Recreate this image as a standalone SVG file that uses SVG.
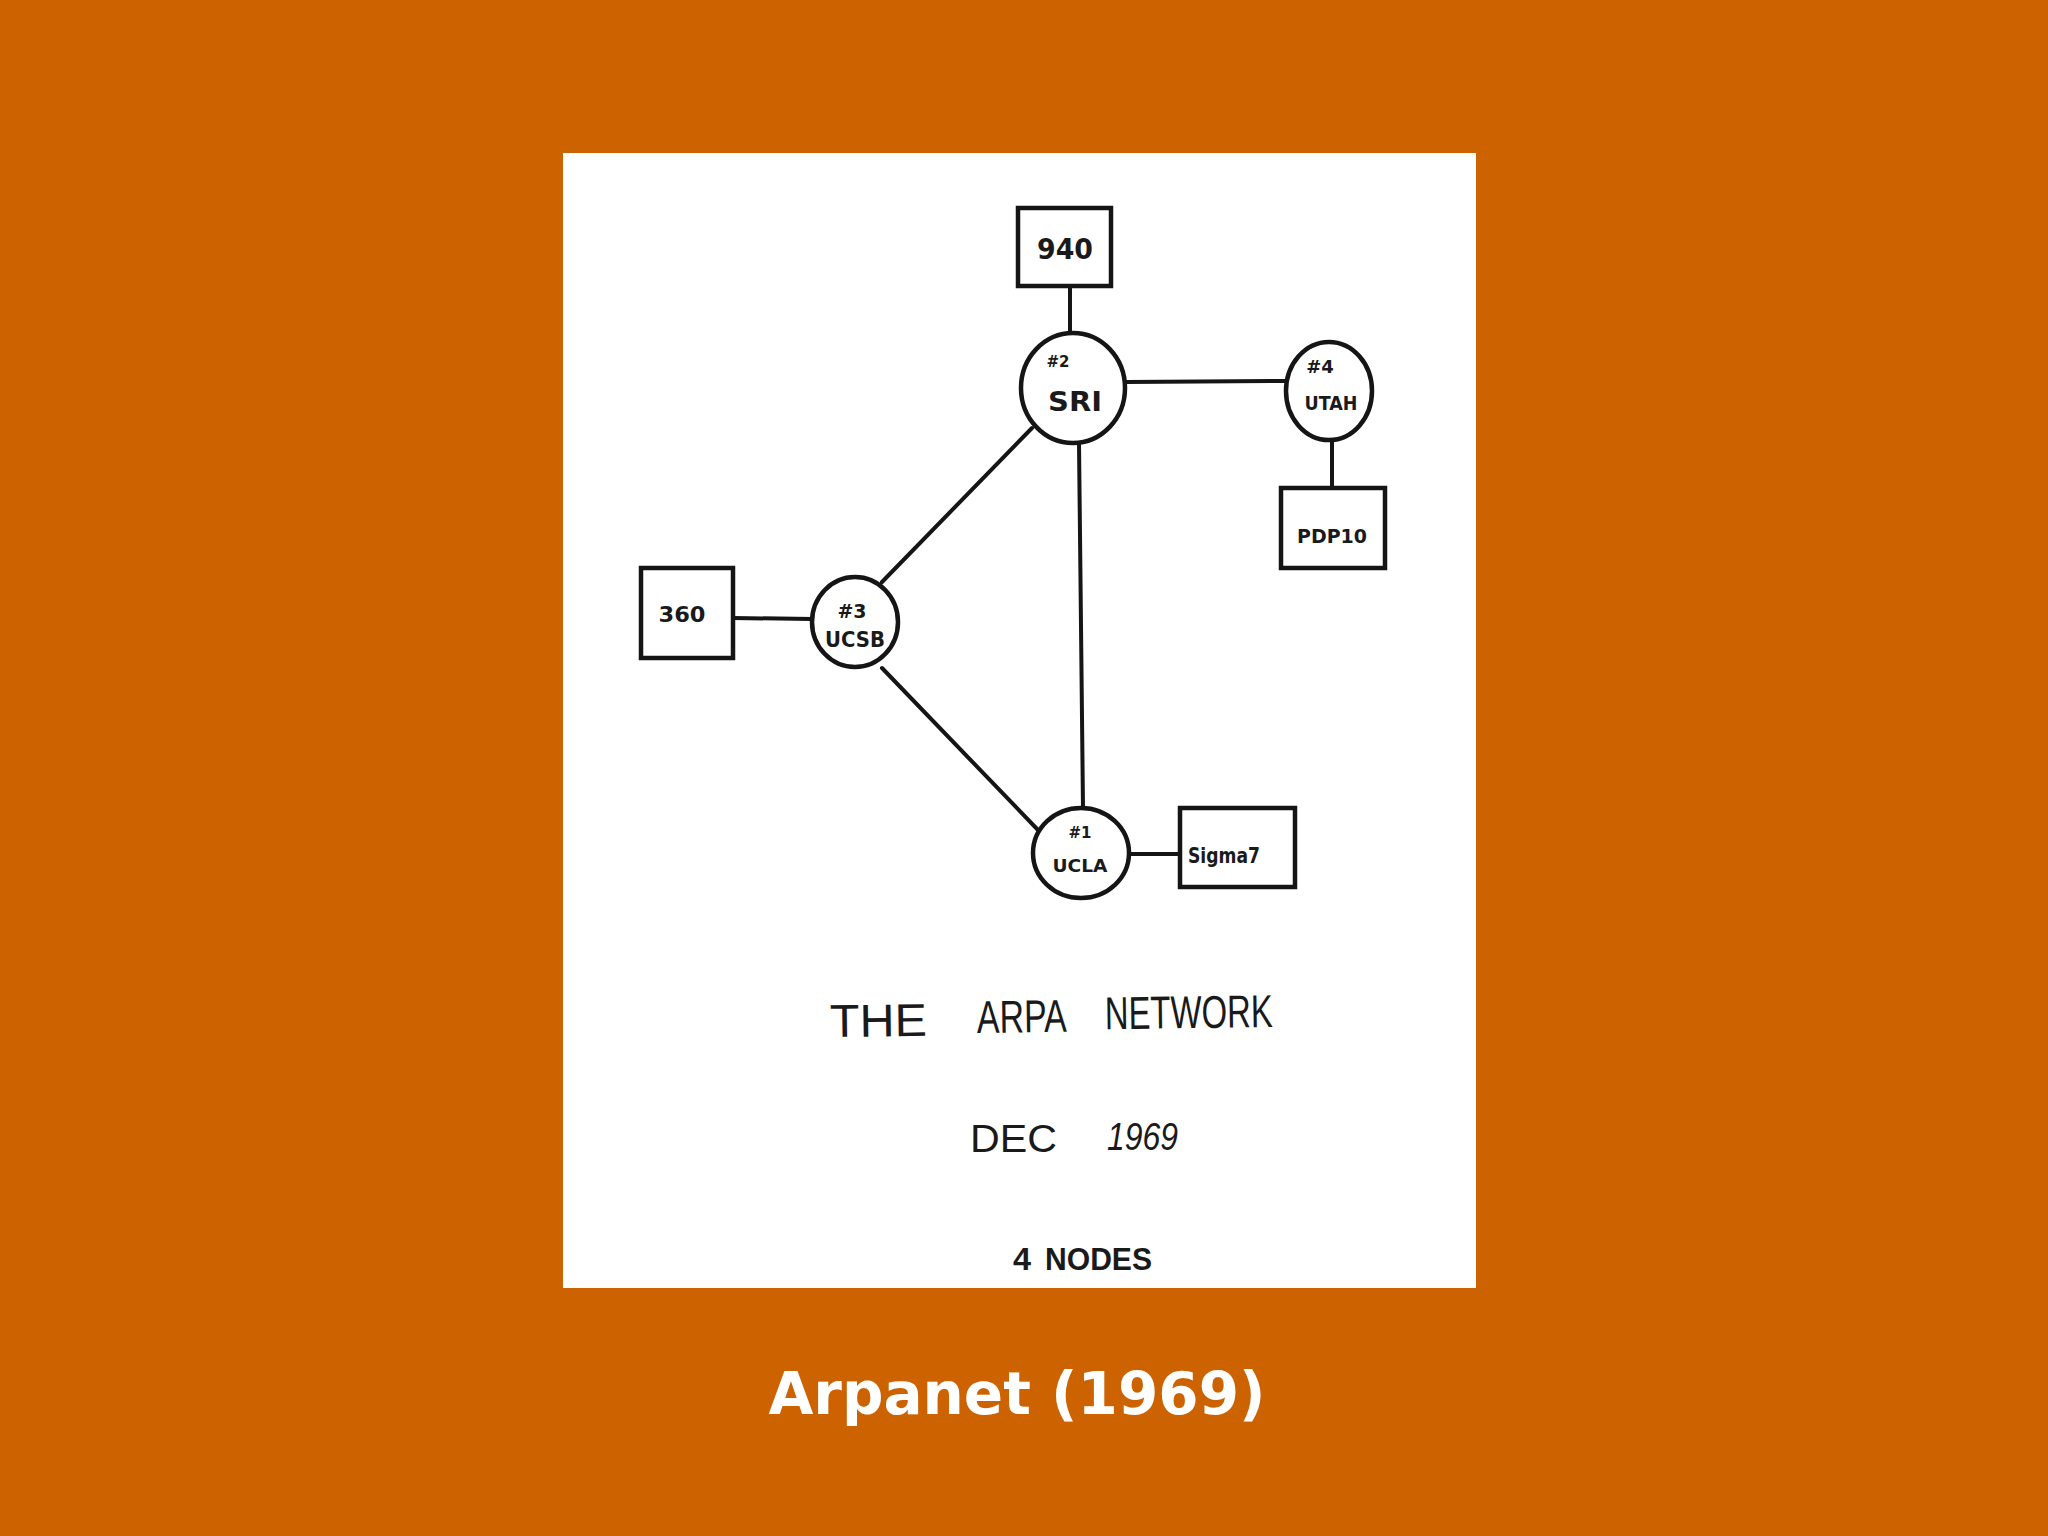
<svg xmlns="http://www.w3.org/2000/svg" width="2048" height="1536" viewBox="0 0 2048 1536">
<style>
.ln{stroke:#151515;stroke-width:4;fill:none;stroke-linecap:round}
.shp{stroke:#151515;stroke-width:4.5;fill:#ffffff}
.hw{font-family:"DejaVu Sans",sans-serif;font-weight:bold;fill:#1a1a1a;text-anchor:middle}
.ttl{font-family:"Liberation Sans",sans-serif;fill:#1a1a1a}
</style>
<rect x="0" y="0" width="2048" height="1536" fill="#cc6300"/>
<rect x="563" y="153" width="913" height="1135" fill="#ffffff"/>
<g id="connectors">
<line class="ln" x1="1070" y1="286" x2="1070" y2="333"/>
<line class="ln" x1="1126" y1="382" x2="1287" y2="381"/>
<line class="ln" x1="1332" y1="440" x2="1332" y2="487"/>
<line class="ln" x1="1032" y1="428" x2="882" y2="582"/>
<line class="ln" x1="733" y1="618" x2="812" y2="619"/>
<line class="ln" x1="882" y1="668" x2="1038" y2="830"/>
<line class="ln" x1="1079" y1="443" x2="1083" y2="808"/>
<line class="ln" x1="1130" y1="854" x2="1180" y2="854"/>
</g>
<g id="n940"><rect class="shp" x="1018" y="208" width="93" height="78"/><text class="hw" x="1065" y="259" font-size="28" textLength="56" lengthAdjust="spacingAndGlyphs">940</text></g>
<g id="sri"><ellipse class="shp" cx="1073" cy="388" rx="52" ry="55"/><text class="hw" x="1058" y="367" font-size="15">#2</text><text class="hw" x="1075" y="411" font-size="26" textLength="54" lengthAdjust="spacingAndGlyphs">SRI</text></g>
<g id="utah"><ellipse class="shp" cx="1329" cy="391" rx="43" ry="49"/><text class="hw" x="1320" y="373" font-size="18">#4</text><text class="hw" x="1331" y="410" font-size="19" textLength="53" lengthAdjust="spacingAndGlyphs">UTAH</text></g>
<g id="pdp10"><rect class="shp" x="1281" y="488" width="104" height="80"/><text class="hw" x="1332" y="543" font-size="19" textLength="70" lengthAdjust="spacingAndGlyphs">PDP10</text></g>
<g id="n360"><rect class="shp" x="641" y="568" width="92" height="90"/><text class="hw" x="682" y="622" font-size="22" textLength="47" lengthAdjust="spacingAndGlyphs">360</text></g>
<g id="ucsb"><ellipse class="shp" cx="855" cy="622" rx="43" ry="45"/><text class="hw" x="852" y="618" font-size="19">#3</text><text class="hw" x="855" y="647" font-size="21" textLength="60" lengthAdjust="spacingAndGlyphs">UCSB</text></g>
<g id="ucla"><ellipse class="shp" cx="1081" cy="853" rx="48" ry="45"/><text class="hw" x="1080" y="838" font-size="15">#1</text><text class="hw" x="1080" y="872" font-size="18" textLength="55" lengthAdjust="spacingAndGlyphs">UCLA</text></g>
<g id="sigma7"><rect class="shp" x="1180" y="808" width="115" height="79"/><text class="hw" x="1224" y="863" font-size="22" textLength="72" lengthAdjust="spacingAndGlyphs">Sigma7</text></g>
<g id="caption">
<text class="ttl" font-size="46" transform="rotate(-0.8 1050 1032)"><tspan x="830" y="1034" textLength="97" lengthAdjust="spacingAndGlyphs">THE</tspan><tspan x="977" y="1032" textLength="90" lengthAdjust="spacingAndGlyphs">ARPA</tspan><tspan x="1105" y="1030" textLength="168" lengthAdjust="spacingAndGlyphs">NETWORK</tspan></text>
<text class="ttl" font-size="38"><tspan x="970" y="1152" textLength="87" lengthAdjust="spacingAndGlyphs">DEC</tspan><tspan x="1107" y="1150" textLength="71" lengthAdjust="spacingAndGlyphs" font-style="italic">1969</tspan></text>
<text class="ttl" font-size="32" font-weight="bold"><tspan x="1013" y="1270" textLength="18" lengthAdjust="spacingAndGlyphs">4</tspan><tspan x="1045" y="1270" textLength="107" lengthAdjust="spacingAndGlyphs">NODES</tspan></text>
</g>
<text x="1017" y="1414" font-family="DejaVu Sans,sans-serif" font-weight="bold" font-size="58" fill="#ffffff" text-anchor="middle">Arpanet (1969)</text>
</svg>
